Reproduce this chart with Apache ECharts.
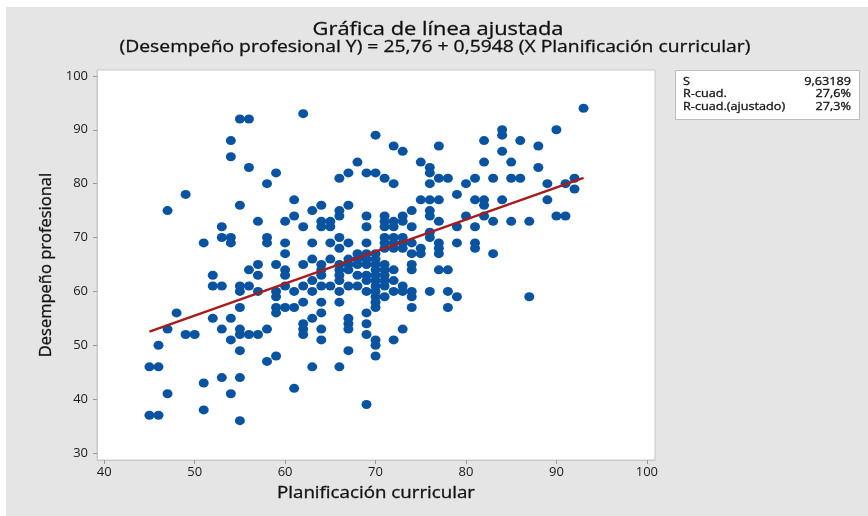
<!DOCTYPE html>
<html>
<head>
<meta charset="utf-8">
<title>Gráfica de línea ajustada</title>
<script src="https://cdn.jsdelivr.net/npm/echarts@6/dist/echarts.min.js"></script>
<style>
	html, body { margin: 0; padding: 0; background: #fff; }
	#chart { width: 868px; height: 516px; }
</style>
</head>
<body>
<div id="chart"></div>
<script>
	// ticks de los ejes
	var xTicks = [40, 50, 60, 70, 80, 90, 100];
	var yTicks = [30, 40, 50, 60, 70, 80, 90, 100];

	// Planificación curricular (x) y los valores de Desempeño profesional (y) en cada columna
	var planX = [45, 46, 47, 48, 49, 50, 51, 52, 53, 54, 55, 56, 57, 58, 59, 60, 61, 62, 63, 64, 65, 66, 67, 68, 69,
		70, 71, 72, 73, 74, 75, 76, 77, 78, 79, 80, 81, 82, 83, 84, 85, 86, 87, 88, 89, 90, 91, 92, 93];
	var desempY = [
		[46, 37],
		[50, 46, 37],
		[75, 53, 41],
		[56],
		[78, 52],
		[52],
		[69, 43, 38],
		[63, 61, 55],
		[72, 70, 61, 53, 44],
		[88, 85, 70, 69, 55, 51, 41],
		[92, 76, 61, 60, 57, 53, 52, 49, 44, 36],
		[92, 83, 64, 61, 52],
		[73, 65, 63, 60, 52],
		[80, 70, 69, 53, 47],
		[82, 65, 60, 59, 57, 56, 48],
		[73, 69, 67, 64, 63, 61, 57],
		[77, 74, 60, 57, 42],
		[93, 72, 65, 61, 58, 54, 53, 52],
		[75, 69, 66, 62, 60, 55, 46],
		[76, 73, 72, 65, 64, 63, 61, 58, 56, 53, 51],
		[73, 72, 69, 66, 61],
		[81, 75, 74, 70, 68, 65, 64, 63, 62, 60, 58, 46],
		[82, 76, 69, 66, 65, 64, 61, 55, 54, 53, 49],
		[84, 67, 66, 65, 63, 61],
		[82, 74, 72, 69, 67, 66, 65, 63, 62, 60, 56, 54, 52, 39],
		[89, 82, 67, 66, 65, 64, 63, 62, 61, 60, 59, 58, 57, 51, 50, 48],
		[81, 74, 73, 72, 70, 69, 68, 65, 64, 63, 62, 61, 59],
		[87, 80, 73, 72, 70, 69, 68, 64, 62, 60, 51],
		[86, 74, 73, 70, 69, 68, 61, 60, 53],
		[75, 72, 69, 67, 65, 64, 60, 59, 57],
		[84, 77, 68, 67],
		[83, 82, 80, 77, 75, 74, 71, 70, 60],
		[87, 81, 77, 73, 69, 68, 67, 64],
		[81, 64, 60, 57],
		[78, 72, 69, 59],
		[80, 74],
		[81, 77, 72, 69, 68],
		[88, 84, 77, 76, 74],
		[81, 73, 67],
		[90, 89, 86, 77],
		[84, 81, 73],
		[88, 81],
		[73, 59],
		[87, 83],
		[80, 77],
		[90, 74],
		[80, 74],
		[81, 79],
		[94]
	];

	// extremos de la recta ajustada Y = 25,76 + 0,5948 X
	var fitX = [45, 93];
	var fitY = [52.53, 81.08];

	// cuadro de resumen
	var statNames = ['S', 'R-cuad.', 'R-cuad.(ajustado)'];
	var statValues = ['9,63189', '27,6%', '27,3%'];

	var font = 'Open Sans';
	var stretch = 1.15; // el original esta algo estirado en horizontal

	var points = [];
	for (var i = 0; i < planX.length; i++) {
		for (var j = 0; j < desempY[i].length; j++) {
			points.push([planX[i], desempY[i][j]]);
		}
	}
	var fitLine = [];
	for (var k = 0; k < fitX.length; k++) {
		fitLine.push([fitX[k], fitY[k]]);
	}

	function label(text, x, y, size, align) {
		return {
			type: 'text',
			x: x, y: y,
			scaleX: stretch,
			z: 2,
			silent: true,
			style: {
				text: text,
				fill: '#111',
				stroke: '#111',
				lineWidth: 0.3,
				font: size + 'px "' + font + '"',
				textAlign: align,
				textVerticalAlign: 'middle'
			}
		};
	}

	var graphics = [{
		type: 'rect',
		shape: { x: 6, y: 7, width: 868, height: 516 },
		style: { fill: '#e5e5e5' },
		z: -10,
		silent: true
	}, {
		type: 'rect',
		shape: { x: 675.5, y: 70.5, width: 184, height: 49 },
		style: { fill: '#fff', stroke: '#bdbdbd', lineWidth: 1 },
		z: 1
	},
		label('Gráfica de línea ajustada', 438, 30, 19, 'center'),
		label('(Desempeño profesional Y) = 25,76 + 0,5948 (X Planificación curricular)', 435, 47.5, 16.8, 'center'),
		label('Planificación curricular', 376, 493, 16.3, 'center')
	];
	for (var s = 0; s < statNames.length; s++) {
		graphics.push(label(statNames[s], 683, 81.7 + s * 12.5, 11, 'left'));
		graphics.push(label(statValues[s], 851, 81.7 + s * 12.5, 11, 'right'));
	}

	var myChart = echarts.init(document.getElementById('chart'));
	var option = {
		backgroundColor: '#fff',
		animation: false,
		textStyle: { fontFamily: font },
		graphic: graphics,
		grid: {
			left: 97,
			top: 70,
			width: 558,
			height: 390,
			show: true,
			backgroundColor: '#fff',
			borderColor: '#c8c8c8',
			borderWidth: 1
		},
		xAxis: {
			type: 'value',
			min: 39.2,
			max: 100.9,
			axisLine: { show: true, lineStyle: { color: '#c8c8c8' } },
			axisTick: { show: true, length: 4, customValues: xTicks, lineStyle: { color: '#999' } },
			axisLabel: { customValues: xTicks, fontSize: 13, color: '#1a1a1a', margin: 6 },
			splitLine: { show: false }
		},
		yAxis: {
			type: 'value',
			min: 28.7,
			max: 101.1,
			name: 'Desempeño profesional',
			nameLocation: 'middle',
			nameGap: 41,
			nameTextStyle: { fontSize: 16.5, color: '#111', textBorderColor: '#111', textBorderWidth: 0.3 },
			axisLine: { show: true, lineStyle: { color: '#c8c8c8' } },
			axisTick: { show: true, length: 4, customValues: yTicks, lineStyle: { color: '#999' } },
			axisLabel: { customValues: yTicks, fontSize: 13, color: '#1a1a1a', margin: 9 },
			splitLine: { show: false }
		},
		series: [{
			name: 'Desempeño profesional',
			type: 'scatter',
			symbol: 'circle',
			symbolSize: [10, 9],
			itemStyle: { color: '#0a53a0', opacity: 1 },
			data: points
		}, {
			name: 'Ajuste',
			type: 'line',
			symbol: 'none',
			lineStyle: { color: '#a51d1d', width: 2.5 },
			z: 3,
			data: fitLine
		}]
	};
	myChart.setOption(option);
</script>
</body>
</html>
